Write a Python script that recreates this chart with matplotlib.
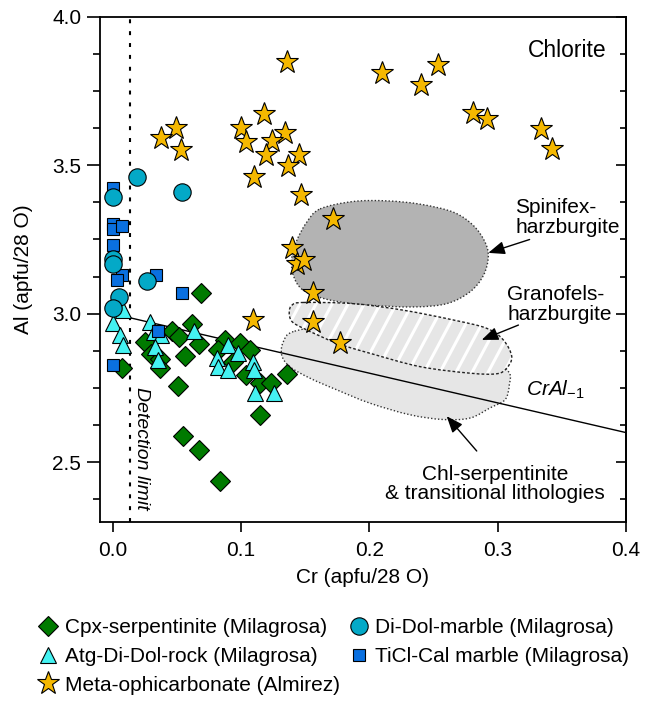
import numpy as np
import matplotlib
matplotlib.use("Agg")
import matplotlib.pyplot as plt
from matplotlib.path import Path
from matplotlib.patches import PathPatch
from matplotlib.ticker import MultipleLocator

plt.rcParams['font.family'] = ['Liberation Sans', 'DejaVu Sans']
plt.rcParams['mathtext.fontset'] = 'custom'
plt.rcParams['mathtext.rm'] = 'Liberation Sans'
plt.rcParams['mathtext.it'] = 'Liberation Sans:italic'

# Cpx-serpentinite (Milagrosa)
cpx_cr = [0.069, 0.046, 0.062, 0.025, 0.052, 0.067, 0.030, 0.037, 0.037, 0.056, 0.007, 0.051, 0.0875,
          0.099, 0.107, 0.082, 0.094, 0.104, 0.115, 0.123, 0.136, 0.115, 0.055, 0.0675, 0.084]
cpx_al = [3.071, 2.943, 2.964, 2.904, 2.923, 2.898, 2.865, 2.848, 2.817, 2.858, 2.817, 2.758, 2.910,
          2.901, 2.879, 2.879, 2.839, 2.794, 2.767, 2.767, 2.798, 2.660, 2.588, 2.543, 2.437]

# Atg-Di-Dol-rock (Milagrosa)
atg_cr = [0.008, 0.0, 0.006, 0.008, 0.029, 0.032, 0.038, 0.033, 0.0355, 0.0636, 0.090, 0.098,
          0.081, 0.082, 0.090, 0.1096, 0.110, 0.111, 0.126]
atg_al = [3.012, 2.968, 2.928, 2.895, 2.973, 2.940, 2.928, 2.889, 2.845, 2.942, 2.895, 2.867,
          2.850, 2.822, 2.811, 2.839, 2.811, 2.733, 2.733]

# TiCl-Cal marble (Milagrosa)
ticl_cr = [0.0005, 0.0, 0.0005, 0.007, 0.0005, 0.007, 0.003, 0.034, 0.054, 0.035, 0.0005]
ticl_al = [3.425, 3.302, 3.286, 3.297, 3.230, 3.129, 3.113, 3.129, 3.070, 2.943, 2.826]

# Di-Dol-marble (Milagrosa)
didol_cr = [0.0187, 0.0005, 0.054, 0.0, 0.0, 0.027, 0.005, 0.0]
didol_al = [3.459, 3.392, 3.411, 3.185, 3.168, 3.111, 3.055, 3.018]

# Meta-ophicarbonate (Almirez)
oph_cr = [0.136, 0.2097, 0.2538, 0.240, 0.118, 0.049, 0.038, 0.053, 0.100, 0.104, 0.134, 0.124,
          0.1195, 0.145, 0.137, 0.110, 0.147, 0.172, 0.140, 0.1434, 0.149, 0.156, 0.156, 0.177,
          0.109, 0.281, 0.292, 0.334, 0.3426]
oph_al = [3.849, 3.810, 3.838, 3.771, 3.673, 3.626, 3.593, 3.550, 3.626, 3.578, 3.610, 3.581,
          3.533, 3.533, 3.498, 3.462, 3.400, 3.319, 3.221, 3.168, 3.180, 3.071, 2.971, 2.901,
          2.978, 3.676, 3.654, 3.623, 3.554]

# field outlines (Cr, Al)
spinifex_field = [(0.1616, 3.353), (0.1875, 3.378), (0.2136, 3.380), (0.2395, 3.369), (0.2655, 3.342),
                  (0.2811, 3.297), (0.2902, 3.241), (0.2927, 3.191), (0.2889, 3.129), (0.2785, 3.074),
                  (0.2603, 3.034), (0.2343, 3.023), (0.2005, 3.029), (0.1694, 3.046), (0.1486, 3.079),
                  (0.1408, 3.129), (0.1395, 3.185), (0.1434, 3.246), (0.1512, 3.308)]
granofels_field = [(0.1486, 3.038), (0.1875, 3.034), (0.2265, 3.012), (0.2655, 2.979), (0.2915, 2.951),
                   (0.3044, 2.912), (0.311, 2.856), (0.307, 2.817), (0.2993, 2.798), (0.2785, 2.800),
                   (0.2395, 2.822), (0.2005, 2.867), (0.1746, 2.901), (0.1486, 2.951), (0.1395, 2.975),
                   (0.1376, 3.007), (0.1400, 3.030)]
chl_field = [(0.1408, 2.940), (0.133, 2.906), (0.1317, 2.861), (0.138, 2.822), (0.1538, 2.783),
             (0.1746, 2.744), (0.2005, 2.699), (0.2317, 2.660), (0.2577, 2.644), (0.2785, 2.649),
             (0.294, 2.683), (0.3058, 2.711), (0.3091, 2.761), (0.3083, 2.806), (0.29, 2.86),
             (0.22, 2.92), (0.17, 2.955)]

detection_limit = 0.0135


def smooth_path(pts):
    # closed Catmull-Rom outline drawn as cubic Bezier segments
    p = np.array(pts)
    n = len(p)
    verts = [p[0]]
    codes = [Path.MOVETO]
    for i in range(n):
        p0, p1, p2, p3 = p[i - 1], p[i], p[(i + 1) % n], p[(i + 2) % n]
        verts += [p1 + (p2 - p0) / 6, p2 - (p3 - p1) / 6, p2]
        codes += [Path.CURVE4] * 3
    verts.append(p[0])
    codes.append(Path.CLOSEPOLY)
    return Path(verts, codes)


fig = plt.figure(figsize=(6.45, 7.05), dpi=100)
ax = fig.add_axes([0.155, 0.26, 0.8155, 0.7163])

# fields
chl = PathPatch(smooth_path(chl_field), facecolor='#e6e6e6', edgecolor='#333333',
                lw=1.0, ls=(0, (1, 1.5)), zorder=1)
ax.add_patch(chl)
gran = PathPatch(smooth_path(granofels_field), facecolor='#e6e6e6', edgecolor='none', zorder=1.1)
ax.add_patch(gran)
for x0 in np.arange(0.08, 0.34, 0.0125):
    ln, = ax.plot([x0, x0 + 0.5 / 8.1], [2.6, 3.1], color='white', lw=2.2, zorder=1.2,
                  solid_capstyle='butt')
    ln.set_clip_path(gran)
ax.add_patch(PathPatch(smooth_path(granofels_field), facecolor='none', edgecolor='#222222',
                       lw=1.0, ls=(0, (2, 1.5)), zorder=1.3))
ax.add_patch(PathPatch(smooth_path(spinifex_field), facecolor='#b3b3b3', edgecolor='#333333',
                       lw=1.0, ls=(0, (1, 1.5)), zorder=1.1))

# CrAl-1 exchange vector and detection limit
ax.plot([0.0, 0.4], [3.0, 2.6], color='black', lw=1.0, zorder=2)
ax.axvline(detection_limit, color='black', lw=1.5, ls=(0, (1.9, 3.8)), zorder=2)

mk = dict(ls='none', mec='black', mew=0.8)
h_cpx, = ax.plot(cpx_cr, cpx_al, marker='D', ms=10, mfc='#007a00', zorder=3, **mk)
h_atg, = ax.plot(atg_cr, atg_al, marker='^', ms=12, mfc='#44f2f2', zorder=3.1, **mk)
h_ticl, = ax.plot(ticl_cr, ticl_al, marker='s', ms=9, mfc='#0a70e0', zorder=3.2, **mk)
h_didol, = ax.plot(didol_cr, didol_al, marker='o', ms=12.5, mfc='#04a9c7', zorder=3.3, **mk)
h_oph, = ax.plot(oph_cr, oph_al, marker='*', ms=17, mfc='#f5b800', zorder=3.4, **mk)

# texts
ax.text(0.354, 3.885, 'Chlorite', fontsize=16.5, ha='center', va='center')
ax.text(0.3136, 3.325, 'Spinifex-\nharzburgite', fontsize=15, ha='left', va='center', linespacing=1.05)
ax.text(0.3073, 3.030, 'Granofels-\nharzburgite', fontsize=15, ha='left', va='center', linespacing=1.05)
ax.text(0.298, 2.428, 'Chl-serpentinite\n& transitional lithologies', fontsize=15, ha='center',
        va='center', linespacing=1.0)
ax.text(0.3448, 2.743, r'$\mathit{CrAl}_{\mathit{-1}}$', fontsize=15, ha='center', va='center')
ax.text(0.0226, 2.5456, 'Detection limit', fontsize=14, style='italic', rotation=-90,
        ha='center', va='center')

arr = dict(arrowstyle='-|>,head_length=1.0,head_width=0.4', color='black', lw=1.0,
           shrinkA=0, shrinkB=0)
ax.annotate('', xy=(0.2927, 3.205), xytext=(0.3249, 3.250), arrowprops=arr)
ax.annotate('', xy=(0.2876, 2.912), xytext=(0.3162, 2.962), arrowprops=arr)
ax.annotate('', xy=(0.2603, 2.655), xytext=(0.2837, 2.538), arrowprops=arr)

# axes
ax.set_xlim(-0.0099, 0.4)
ax.set_ylim(2.3, 4.0)
ax.xaxis.set_major_locator(MultipleLocator(0.1))
ax.yaxis.set_major_locator(MultipleLocator(0.5))
ax.yaxis.set_minor_locator(MultipleLocator(0.125))
ax.tick_params(axis='y', which='major', direction='out', length=9.5, width=1.2, labelsize=15, pad=4)
ax.tick_params(axis='y', which='minor', direction='out', length=5, width=1.2)
ax.tick_params(axis='x', which='major', direction='out', length=7, width=1.2, labelsize=15, pad=7)
for s in ax.spines.values():
    s.set_linewidth(1.3)

sec = ax.secondary_yaxis('right')
sec.yaxis.set_major_locator(MultipleLocator(0.5))
sec.yaxis.set_minor_locator(MultipleLocator(0.125))
sec.tick_params(which='major', direction='in', length=7, width=1.2, labelright=False)
sec.tick_params(which='minor', direction='in', length=4, width=1.2)
sec.spines['right'].set_linewidth(1.3)

ax.set_xlabel('Cr (apfu/28 O)', fontsize=15)
ax.set_ylabel('Al (apfu/28 O)', fontsize=15)
ax.xaxis.set_label_coords(0.5, -0.092)
ax.yaxis.set_label_coords(-0.127, 0.5)

handles = [h_cpx, h_atg, h_oph, h_didol, h_ticl]
labels = ['Cpx-serpentinite (Milagrosa)', 'Atg-Di-Dol-rock (Milagrosa)', 'Meta-ophicarbonate (Almirez)',
          'Di-Dol-marble (Milagrosa)', 'TiCl-Cal marble (Milagrosa)']
fig.legend(handles, labels, loc='upper left', bbox_to_anchor=(40 / 645, 1 - 618 / 705), ncol=2,
           frameon=False, fontsize=15, handlelength=0.8, handletextpad=0.4, columnspacing=0.5,
           labelspacing=0.47, borderpad=0, borderaxespad=0)

fig.savefig('out.png', dpi=100)
